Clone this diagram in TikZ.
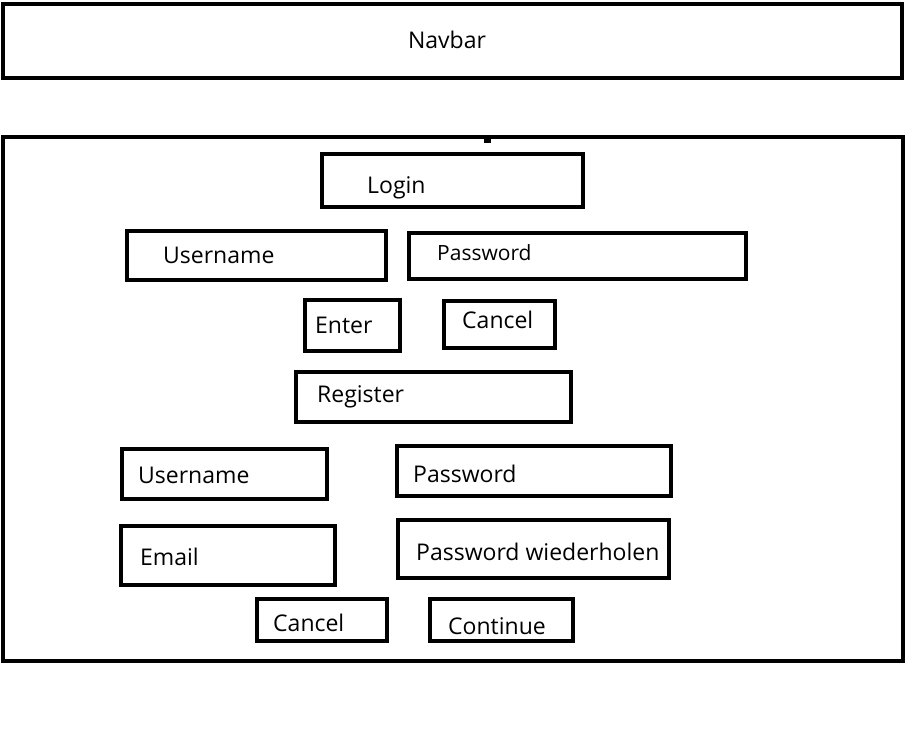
\documentclass[tikz,border=0pt]{standalone}
\usepackage{fontspec}
\setmainfont{Open Sans}
\begin{document}
\begin{tikzpicture}[
    x=1pt, y=-1pt,
    box/.style={draw=black, line width=4pt},
    lbl/.style={anchor=base west, inner sep=0pt, font=\fontsize{23}{27}\selectfont},
    small/.style={lbl, font=\fontsize{21}{25}\selectfont}
]
    \useasboundingbox (0,0) rectangle (905,744);

    % navbar
    \draw[box] (3,4) rectangle (902,78);
    \node[lbl, anchor=base] (navbar) at (447,48) {Navbar};

    % main area
    \draw[box] (2.5,136.5) rectangle (903,661);
    \fill (484,138) rectangle (491,143);

    % login part
    \draw[box] (321.5,154) rectangle (582.5,207);
    \node[lbl] (login) at (367,193) {Login};
    \draw[box] (127,231) rectangle (386,280);
    \node[lbl] (user1) at (163,263) {Username};
    \draw[box] (409,233) rectangle (746,279);
    \node[small] (pass1) at (437,260) {Password};
    \draw[box] (305,300) rectangle (400,351);
    \node[lbl] (enter) at (315,333) {Enter};
    \draw[box] (444,301) rectangle (555,348);
    \node[lbl] (cancel1) at (462,328) {Cancel};

    % register part
    \draw[box] (296,372) rectangle (571,422);
    \node[lbl] (register) at (317,402) {Register};
    \draw[box] (122,449) rectangle (327,499);
    \node[lbl] (user2) at (138,483) {Username};
    \draw[box] (397,446) rectangle (671,496);
    \node[lbl] (pass2) at (413,482) {Password};
    \draw[box] (121,526) rectangle (335,585);
    \node[lbl] (email) at (140,565) {Email};
    \draw[box] (398,520) rectangle (669,578);
    \node[lbl] (pass3) at (416,560) {Password wiederholen};
    \draw[box] (257,599) rectangle (387,641);
    \node[lbl] (cancel2) at (273,631) {Cancel};
    \draw[box] (430,599) rectangle (573,641);
    \node[lbl] (continue) at (448,634) {Continue};
\end{tikzpicture}
\end{document}
